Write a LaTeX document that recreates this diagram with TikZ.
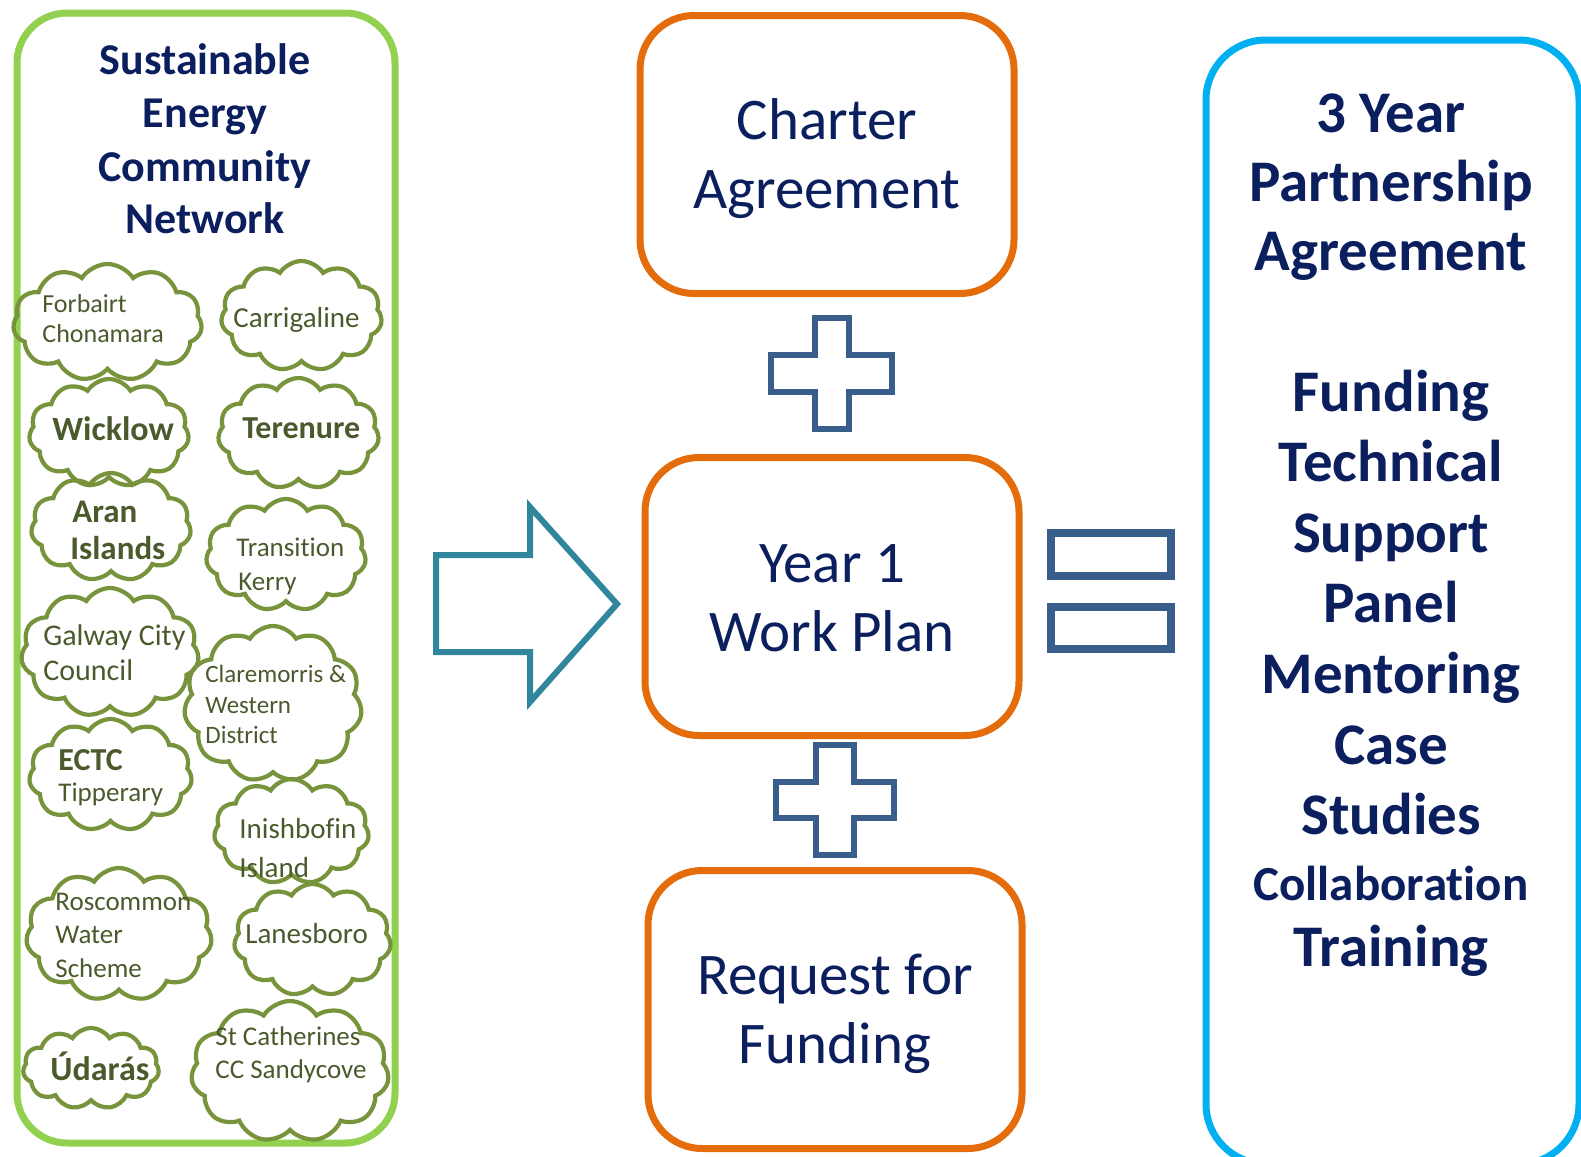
\documentclass[tikz,border=0pt]{standalone}
\usepackage{fontspec}
\setmainfont{Carlito}[Ligatures=NoCommon]
\usetikzlibrary{shapes.symbols}
\definecolor{navy}{HTML}{0B1F5E}
\definecolor{boxorange}{HTML}{E46C0A}
\definecolor{boxgreen}{HTML}{92D050}
\definecolor{boxsky}{HTML}{00B0F0}
\definecolor{cloudline}{HTML}{77933C}
\definecolor{cloudtext}{HTML}{4A5A2C}
\definecolor{symblue}{HTML}{3A5E8C}
\definecolor{arrowteal}{HTML}{31859C}
\begin{document}
\begin{tikzpicture}[x=0.5pt,y=-0.5pt,
  puff/.style={cloud, cloud puffs=11, cloud puff arc=115, cloud ignores aspect, draw=cloudline, line width=2.1pt, inner sep=0pt},
  ctext/.style={anchor=base west, text=cloudtext, inner sep=0pt},
  orangebox/.style={draw=boxorange, line width=3.5pt, rounded corners=27pt, minimum width=187pt, minimum height=139pt},
  boxtext/.style={text=navy, align=center, inner sep=0pt, font=\fontsize{29.5}{34.5}\selectfont},
  ttl/.style={anchor=base, text=navy, inner sep=0pt, font=\bfseries\fontsize{22}{26}\selectfont},
  rline/.style={anchor=base, text=navy, inner sep=0pt, font=\bfseries\fontsize{29.5}{34}\selectfont},
  sym/.style={draw=symblue, line width=3pt, line join=miter},
  eqsym/.style={draw=symblue, line width=4pt},
  bigarrow/.style={draw=arrowteal, line width=3pt, line join=miter}
]
\useasboundingbox (0,0) rectangle (1581,1157);

% left green container
\node[draw=boxgreen, line width=3.5pt, rounded corners=25pt, minimum width=189pt, minimum height=565pt] (net) at (206,578) {};
\node[ttl] (n1) at (205,74) {Sustainable};
\node[ttl] (n2) at (205,127) {Energy};
\node[ttl] (n3) at (205,181) {Community};
\node[ttl] (n4) at (205,233) {Network};

% clouds
\node[puff, minimum width=94.5pt, minimum height=58.5pt] (c1) at (107.5,322.5) {};
\node[puff, minimum width=80.5pt, minimum height=55pt] (c2) at (301.5,316) {};
\node[puff, minimum width=80pt, minimum height=54pt] (c3) at (109,433) {};
\node[puff, minimum width=80.5pt, minimum height=55.5pt] (c4) at (298.5,433.5) {};
\node[puff, minimum width=80pt, minimum height=54pt] (c5) at (111,527) {};
\node[puff, minimum width=80pt, minimum height=56pt] (c6) at (286,555) {};
\node[puff, minimum width=89pt, minimum height=64.5pt] (c7) at (110,652.5) {};
\node[puff, minimum width=89pt, minimum height=78pt] (c8) at (273,704) {};
\node[puff, minimum width=81.5pt, minimum height=56pt] (c9) at (110.5,775) {};
\node[puff, minimum width=77.5pt, minimum height=52.5pt] (c10) at (291.5,831.5) {};
\node[puff, minimum width=93pt, minimum height=66.5pt] (c11) at (119,934.5) {};
\node[puff, minimum width=78.5pt, minimum height=56pt] (c12) at (312.5,940) {};
\node[puff, minimum width=68pt, minimum height=40.5pt] (c13) at (91,1068.5) {};
\node[puff, minimum width=99pt, minimum height=70.5pt] (c14) at (290,1071.5) {};

% cloud texts
\node[ctext, font=\fontsize{13}{15}\selectfont] (t1a) at (42,312) {Forbairt};
\node[ctext, font=\fontsize{13}{15}\selectfont] (t1b) at (42,342) {Chonamara};
\node[ctext, font=\fontsize{14.5}{17}\selectfont] (t2) at (233,327) {Carrigaline};
\node[ctext, font=\bfseries\fontsize{17}{20}\selectfont] (t3) at (52,440) {Wicklow};
\node[ctext, font=\bfseries\fontsize{16}{19}\selectfont] (t4) at (242,438) {Terenure};
\node[ctext, font=\bfseries\fontsize{16.5}{19}\selectfont] (t5a) at (72,522) {Aran};
\node[ctext, font=\bfseries\fontsize{16.5}{19}\selectfont] (t5b) at (70,559) {Islands};
\node[ctext, font=\fontsize{13.5}{16}\selectfont] (t6a) at (236,556) {Transition};
\node[ctext, font=\fontsize{13.5}{16}\selectfont] (t6b) at (238,590) {Kerry};
\node[ctext, font=\fontsize{15}{18}\selectfont] (t7a) at (43,645) {Galway City};
\node[ctext, font=\fontsize{15}{18}\selectfont] (t7b) at (43,680) {Council};
\node[ctext, font=\fontsize{12.5}{15}\selectfont] (t8a) at (205,682) {Claremorris \&};
\node[ctext, font=\fontsize{12.5}{15}\selectfont] (t8b) at (205,713) {Western};
\node[ctext, font=\fontsize{12.5}{15}\selectfont] (t8c) at (205,743) {District};
\node[ctext, font=\bfseries\fontsize{16}{19}\selectfont] (t9a) at (58,770) {ECTC};
\node[ctext, font=\fontsize{13.5}{16}\selectfont] (t9b) at (58,801) {Tipperary};
\node[ctext, font=\fontsize{14.5}{17}\selectfont] (t10a) at (239,838) {Inishbofin};
\node[ctext, font=\fontsize{14.5}{17}\selectfont] (t10b) at (239,877) {Island};
\node[ctext, font=\fontsize{13.5}{16}\selectfont] (t11a) at (55,910) {Roscommon};
\node[ctext, font=\fontsize{13.5}{16}\selectfont] (t11b) at (55,943) {Water};
\node[ctext, font=\fontsize{13.5}{16}\selectfont] (t11c) at (55,977) {Scheme};
\node[ctext, font=\fontsize{14.5}{17}\selectfont] (t12) at (245,943) {Lanesboro};
\node[ctext, font=\bfseries\fontsize{17}{20}\selectfont] (t13) at (50,1080) {Údarás};
\node[ctext, font=\fontsize{13.5}{16}\selectfont] (t14a) at (215,1045) {St Catherines};
\node[ctext, font=\fontsize{13.5}{16}\selectfont] (t14b) at (215,1078) {CC Sandycove};

% big arrow
\draw[bigarrow] (436,555) -- (530,555) -- (530,507) -- (617,604) -- (530,702) -- (530,652) -- (436,652) -- cycle;

% centre boxes
\node[orangebox] (charter) at (827,154.5) {};
\node[boxtext] (charter-t) at (827,159) {Charter\\Agreement};
\node[orangebox] (workplan) at (832,596.5) {};
\node[boxtext] (workplan-t) at (832,598) {Year 1\\Work Plan};
\node[orangebox] (request) at (835,1009.5) {};
\node[boxtext] (request-t) at (835,1014) {Request for\\Funding};

% plus signs
\draw[sym] (815,318) -- (849,318) -- (849,355) -- (892,355) -- (892,392) -- (849,392) -- (849,429) -- (815,429) -- (815,392) -- (771,392) -- (771,355) -- (815,355) -- cycle;
\draw[sym] (816,745) -- (854,745) -- (854,782) -- (894,782) -- (894,818) -- (854,818) -- (854,855) -- (816,855) -- (816,818) -- (776,818) -- (776,782) -- (816,782) -- cycle;

% equals sign
\draw[eqsym] (1051,533) rectangle (1171,576);
\draw[eqsym] (1051,607) rectangle (1171,649);

% right blue box
\node[draw=boxsky, line width=3.5pt, rounded corners=30pt, minimum width=186.5pt, minimum height=562pt] (partner) at (1392.5,602) {};
\node[rline] (r1) at (1391,132) {3 Year};
\node[rline] (r2) at (1391,201) {Partnership};
\node[rline] (r3) at (1391,270) {Agreement};
\node[rline] (r4) at (1391,411) {Funding};
\node[rline] (r5) at (1391,481) {Technical};
\node[rline] (r6) at (1391,552) {Support};
\node[rline] (r7) at (1391,622) {Panel};
\node[rline] (r8) at (1391,693) {Mentoring};
\node[rline] (r9) at (1391,764) {Case};
\node[rline] (r10) at (1391,834) {Studies};
\node[rline, font=\bfseries\fontsize{24.5}{29}\selectfont] (r11) at (1391,900) {Collaboration};
\node[rline] (r12) at (1391,966) {Training};
\end{tikzpicture}
\end{document}
